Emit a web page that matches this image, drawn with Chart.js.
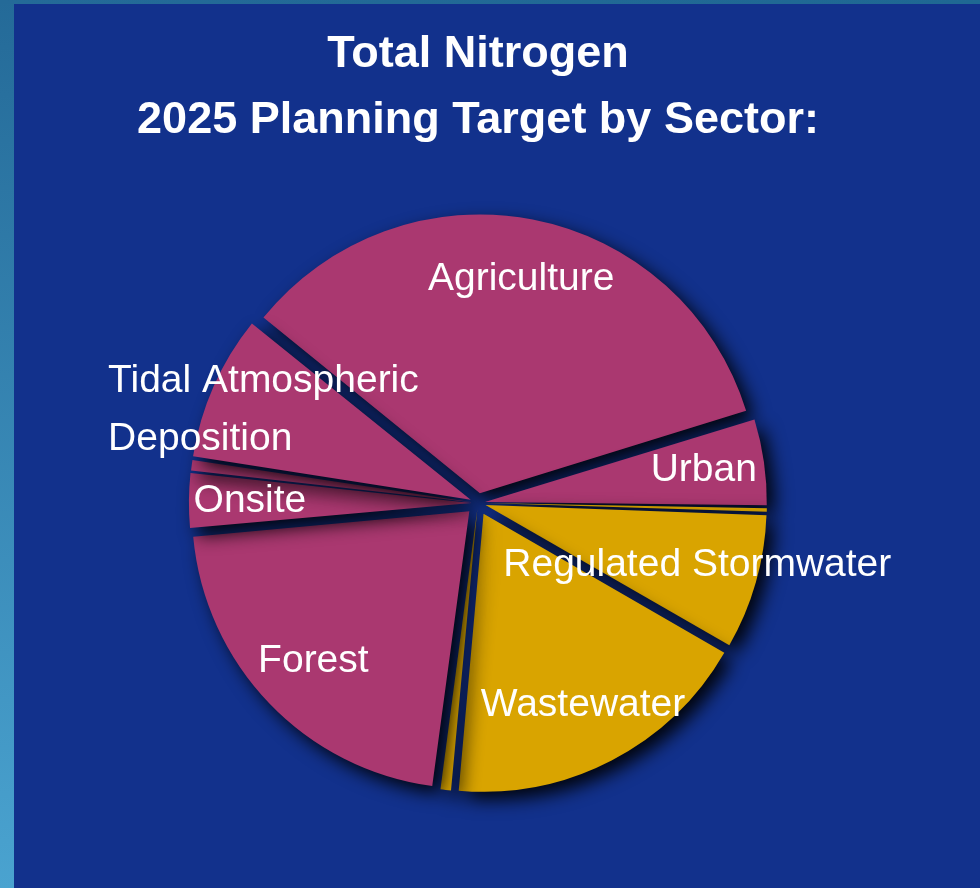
<!DOCTYPE html>
<html>
<head>
<meta charset="utf-8">
<script src="https://cdn.jsdelivr.net/npm/chart.js@4/dist/chart.umd.min.js"></script>
<style>
  html, body { margin:0; padding:0; background:#12318c; }
  #wrap { position:relative; width:980px; height:888px; background:#12318c; overflow:hidden; }
  #edge-left { position:absolute; left:0; top:0; width:14px; height:888px; background:linear-gradient(#246a98, #4aa3d0); }
  #edge-top { position:absolute; left:0; top:0; width:980px; height:4px; background:linear-gradient(90deg, #246a98, #1f6893); }
  #chart { position:absolute; left:0; top:0; }
</style>
</head>
<body>
<div id="wrap">
  <canvas id="chart" width="956" height="888"></canvas>
  <div id="edge-left"></div>
  <div id="edge-top"></div>
</div>
<script>
// sectors, clockwise from the Agriculture / Tidal split (unlabelled slivers have no text)
const sectors = ['Agriculture', 'Urban', '', 'Regulated Stormwater', 'Wastewater', '', 'Forest', 'Onsite', '', ['Tidal Atmospheric', 'Deposition']];
const shares  = [34.4, 5.0, 0.3, 7.8, 18.1, 0.7, 21.4, 3.2, 0.7, 8.4];
const sliceColors = ['#aa3870', '#aa3870', '#d9a400', '#d9a400', '#d9a400', '#d9a400', '#aa3870', '#aa3870', '#aa3870', '#aa3870'];
const titleLines = ['Total Nitrogen', '2025 Planning Target by Sector:'];

// explode distance per slice in px (chart.js moves an arc by offset/4)
const explodePx = [10, 7, 6, 7.8, 12, 6, 12, 6.7, 6, 8];
const LABEL_SHIFT = 12;

const shadowPlugin = {
  id: 'shadow',
  beforeDatasetsDraw(chart) {
    const ctx = chart.ctx;
    ctx.save();
    ctx.shadowColor = 'rgba(0,0,0,0.92)';
    ctx.shadowBlur = 18;
    ctx.shadowOffsetX = 8;
    ctx.shadowOffsetY = 8;
  },
  afterDatasetsDraw(chart) {
    chart.ctx.restore();
  }
};

const sliceLabels = {
  id: 'sliceLabels',
  afterDraw(chart) {
    const ctx = chart.ctx;
    const meta = chart.getDatasetMeta(0);
    ctx.save();
    ctx.font = '39px "Liberation Sans", Arial, sans-serif';
    ctx.fillStyle = '#ffffff';
    ctx.textBaseline = 'middle';
    meta.data.forEach((arc, i) => {
      const label = chart.data.labels[i];
      if (!label || !label.length) return;
      const p = arc.getProps(['x', 'y', 'startAngle', 'endAngle', 'outerRadius'], true);
      const mid = (p.startAngle + p.endAngle) / 2;
      const r = p.outerRadius * 0.78 + LABEL_SHIFT;
      const cx = p.x + Math.cos(mid) * r;
      const cy = p.y + Math.sin(mid) * r;
      const lines = Array.isArray(label) ? label : [label];
      if (lines.length === 1) {
        ctx.textAlign = 'center';
        ctx.fillText(lines[0], cx, cy);
      } else {
        const w = Math.max(...lines.map(l => ctx.measureText(l).width));
        const gap = 58;
        ctx.textAlign = 'left';
        lines.forEach((l, k) => ctx.fillText(l, cx - w / 2 - 6, cy + (k - (lines.length - 1) / 2) * gap));
      }
    });
    ctx.restore();
  }
};

new Chart(document.getElementById('chart'), {
  type: 'pie',
  data: {
    labels: sectors,
    datasets: [{
      data: shares,
      backgroundColor: sliceColors,
      borderWidth: 0,
      offset: explodePx.map(v => v * 4)
    }]
  },
  options: {
    responsive: false,
    animation: false,
    rotation: -51,
    layout: { padding: { left: 0, right: 0, top: 0, bottom: 84 } },
    plugins: {
      legend: { display: false },
      tooltip: { enabled: false },
      title: {
        display: true,
        text: titleLines,
        color: '#ffffff',
        font: { family: '"Liberation Sans", Arial, sans-serif', size: 45, weight: 'bold', lineHeight: 1.455 },
        padding: { top: 22, bottom: 49 }
      }
    }
  },
  plugins: [shadowPlugin, sliceLabels]
});
</script>
</body>
</html>
